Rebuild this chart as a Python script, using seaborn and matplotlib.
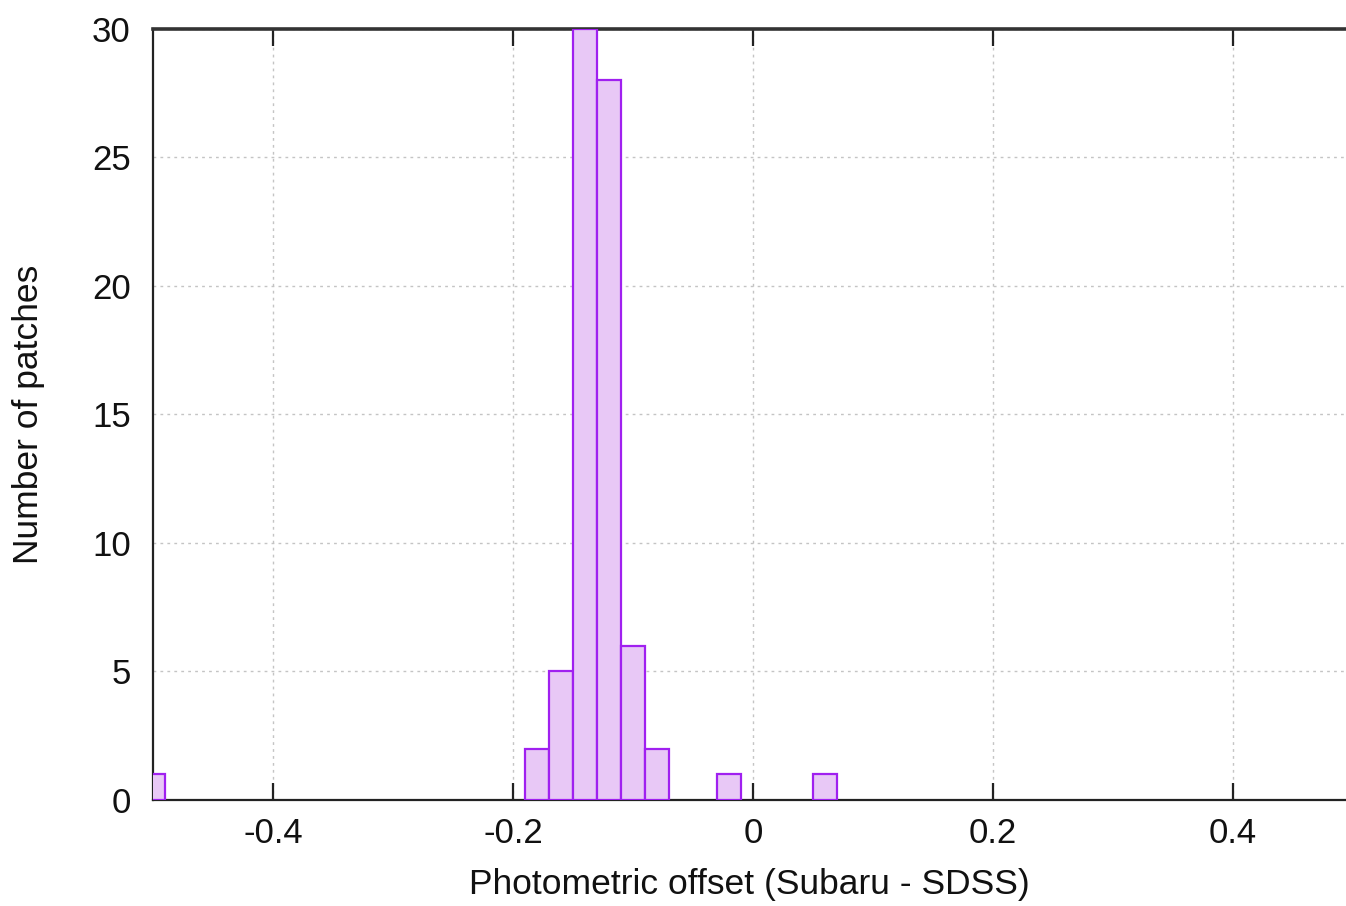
import numpy as np
import pandas as pd
import matplotlib
matplotlib.use("Agg")
import matplotlib.pyplot as plt
import seaborn as sns

# Histogram of photometric offsets: bin centres and counts per bin (width 0.02)
bin_centers = [-0.50, -0.18, -0.16, -0.14, -0.12, -0.10, -0.08, -0.02, 0.06]
patch_counts = [1, 2, 5, 30, 28, 6, 2, 1, 1]
bin_width = 0.02

x_ticks = [-0.4, -0.2, 0.0, 0.2, 0.4]
x_tick_labels = ["-0.4", "-0.2", "0", "0.2", "0.4"]
y_ticks = [0, 5, 10, 15, 20, 25, 30]

df = pd.DataFrame({"offset": bin_centers, "count": patch_counts})

sns.set_theme(style="white")
plt.rcParams["font.family"] = ["Liberation Sans", "DejaVu Sans"]

fig = plt.figure(figsize=(13.46, 9.06), dpi=100)
ax = fig.add_axes([0.1137, 0.117, 0.8863, 0.851])

edge = "#a020f0"
sns.histplot(
    data=df, x="offset", weights="count",
    binwidth=bin_width, binrange=(-0.51, 0.07),
    color="#e8c8f6", edgecolor=edge, linewidth=1.6, alpha=1.0,
    ax=ax, zorder=3,
)
# drop empty bins so no outline sits on the baseline
for p in list(ax.patches):
    if p.get_height() == 0:
        p.remove()

ax.set_xlim(-0.5, 0.494)
ax.set_ylim(0, 30)
ax.set_xticks(x_ticks)
ax.set_xticklabels(x_tick_labels)
ax.set_yticks(y_ticks)

ax.grid(True, linestyle=(0, (2, 3)), color="#c4c4c4", linewidth=1.0, zorder=0)
ax.set_axisbelow(True)

for side in ["left", "bottom"]:
    ax.spines[side].set_color("#222222")
    ax.spines[side].set_linewidth(1.6)
ax.spines["top"].set_color("#333333")
ax.spines["top"].set_linewidth(2.6)
ax.spines["right"].set_visible(False)

ax.tick_params(axis="both", direction="in", length=12, width=1.6,
               color="#222222", labelsize=25, labelcolor="#111111")
ax.tick_params(axis="x", pad=12)
ax.tick_params(axis="y", pad=16)
ax.tick_params(axis="x", top=True, bottom=True)

ax.set_xlabel("Photometric offset (Subaru - SDSS)", fontsize=25.5,
              color="#111111", labelpad=13)
ax.set_ylabel("Number of patches", fontsize=25.5, color="#111111", labelpad=34)

fig.savefig("out.png", dpi=100)
